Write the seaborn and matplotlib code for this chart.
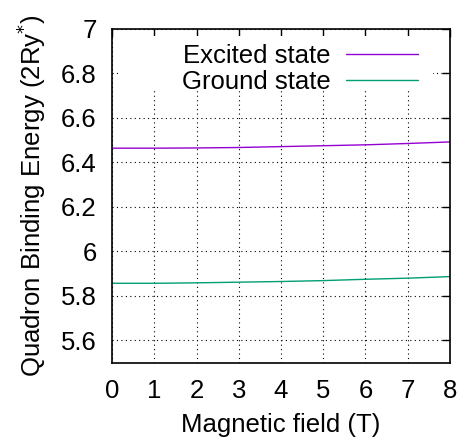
import pandas as pd
import matplotlib
matplotlib.use("Agg")
import matplotlib.pyplot as plt
import matplotlib.ticker as mticker
from matplotlib.patches import Rectangle
import seaborn as sns

# dados
field = [0, 1, 2, 3, 4, 5, 6, 7, 8]
excited = [6.464, 6.464, 6.465, 6.467, 6.471, 6.475, 6.479, 6.485, 6.492]
ground = [5.857, 5.857, 5.859, 5.862, 5.865, 5.869, 5.875, 5.880, 5.887]
series_names = ["Excited state", "Ground state"]
colors = ["#9400D3", "#009E73"]

df = pd.DataFrame({
    "B": field * 2,
    "E": excited + ground,
    "state": [series_names[0]] * len(field) + [series_names[1]] * len(field),
})

sns.set_theme(style="white")
plt.rcParams['font.family'] = ['Liberation Sans', 'DejaVu Sans']
plt.rcParams.update({"text.color": "black", "axes.labelcolor": "black",
                     "xtick.color": "black", "ytick.color": "black"})
fs = 18.5

fig = plt.figure(figsize=(4.61, 4.44), dpi=100)
ax = fig.add_axes([0.243, 0.183, 0.733, 0.752])

sns.lineplot(data=df, x="B", y="E", hue="state", palette=colors,
             linewidth=1.0, ax=ax, legend=False)

ax.set_xlim(0, 8)
ax.set_ylim(5.5, 7)
ax.xaxis.set_major_locator(mticker.MultipleLocator(1))
ax.yaxis.set_major_locator(mticker.MultipleLocator(0.2))
ax.yaxis.set_major_formatter(mticker.FuncFormatter(lambda v, p: "%g" % round(v, 3)))
ax.tick_params(direction="in", length=6, width=1, top=True, right=True,
               labelsize=fs, colors="black")
ax.tick_params(axis="x", pad=12)
ax.tick_params(axis="y", pad=11)
ax.set_axisbelow(True)
ax.grid(True, color="black", linestyle=(0, (1, 3)), linewidth=0.8)
for s in ax.spines.values():
    s.set_color("black")
    s.set_linewidth(1.2)

ax.set_xlabel("Magnetic field (T)", fontsize=fs, labelpad=7, color="black")
ax.set_ylabel("Quadron Binding Energy (2Ry$^{*}$)", fontsize=fs, labelpad=9, color="black")

# caixa opaca da legenda (esconde a grade, como no gnuplot)
ax.add_patch(Rectangle((0.025, 0.817), 0.925, 0.163, transform=ax.transAxes,
                       facecolor="white", edgecolor="none", zorder=1))

handles = [plt.Line2D([], [], color=c, linewidth=1.0) for c in colors]
leg = ax.legend(handles, series_names, loc="upper right", frameon=False,
                markerfirst=False, handlelength=2.8, handletextpad=0.6,
                fontsize=fs, labelspacing=0.08, borderpad=0, borderaxespad=0,
                bbox_to_anchor=(0.905, 0.955))
for t in leg.get_texts():
    t.set_color("black")
leg.set_zorder(5)

plt.savefig("out.png", dpi=100)
